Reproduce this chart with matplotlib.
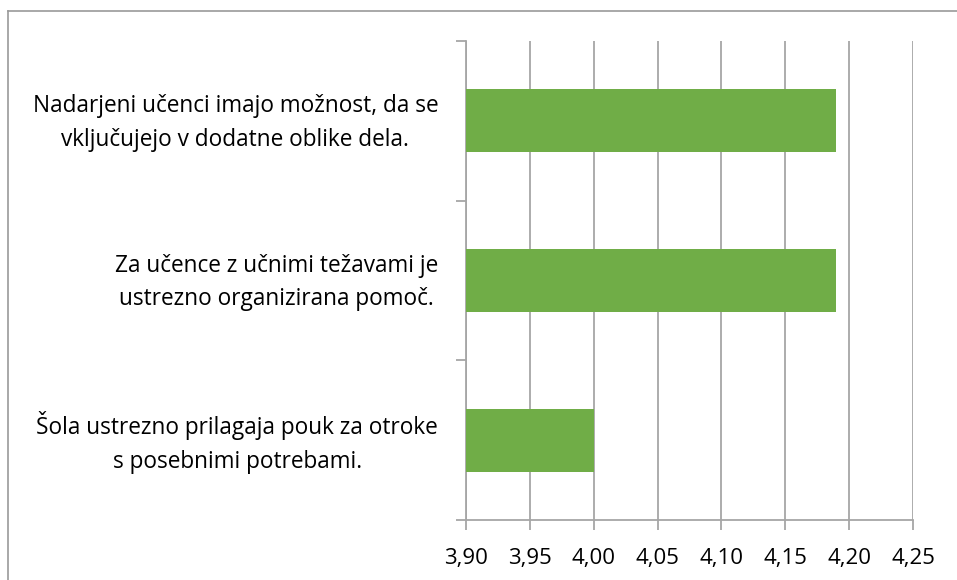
import matplotlib
matplotlib.use("Agg")
import matplotlib.pyplot as plt
import matplotlib.transforms as mtransforms
from matplotlib.lines import Line2D
import numpy as np

categories = [
    "Šola ustrezno prilagaja pouk za otroke\ns posebnimi potrebami.",
    "Za učence z učnimi težavami je\nustrezno organizirana pomoč.",
    "Nadarjeni učenci imajo možnost, da se\nvključujejo v dodatne oblike dela.",
]
values = [4.00, 4.19, 4.19]
xticks = [3.90, 3.95, 4.00, 4.05, 4.10, 4.15, 4.20, 4.25]
xticklabels = ["3,90", "3,95", "4,00", "4,05", "4,10", "4,15", "4,20", "4,25"]

plt.rcParams['font.family'] = ['Open Sans', 'DejaVu Sans']

W, H = 957, 580
fig = plt.figure(figsize=(W / 100, H / 100), dpi=100)
fig.patch.set_facecolor("white")

frame_c = "#9a9a9a"
fig.add_artist(Line2D([8 / W, 1.0], [1 - 11 / H, 1 - 11 / H], color=frame_c, lw=1.2, transform=fig.transFigure))
fig.add_artist(Line2D([8 / W, 8 / W], [0.0, 1 - 11 / H], color=frame_c, lw=1.2, transform=fig.transFigure))

ax = fig.add_axes([466 / W, (H - 520) / H, (913 - 466) / W, (520 - 41) / H])
y = np.arange(len(categories))
ax.barh(y, [v - 3.90 for v in values], left=3.90, height=0.395, color="#70AD47", zorder=3)
ax.set_xlim(3.90, 4.25)
ax.set_ylim(-0.5, len(categories) - 0.5)

grid_c = "#a6a6a6"
ax.set_xticks(xticks)
ax.set_xticklabels(xticklabels, fontsize=16)
ax.xaxis.grid(True, color=grid_c, lw=1.3, zorder=0)
ax.tick_params(axis="x", direction="out", length=7, width=1.3, color=grid_c, pad=13)

ax.set_yticks(y)
ax.set_yticklabels(categories, fontsize=16.3, multialignment="center", linespacing=1.55)
ax.tick_params(axis="y", which="major", length=0, pad=20)
ax.set_yticks(np.arange(-0.5, len(categories)), minor=True)
ax.tick_params(axis="y", which="minor", direction="out", length=7, width=1.3, color=grid_c)

offset = mtransforms.ScaledTranslation(0, 6 / 100, fig.dpi_scale_trans)
for lab in ax.get_yticklabels():
    lab.set_transform(lab.get_transform() + offset)

for s in ["top", "right"]:
    ax.spines[s].set_visible(False)
for s in ["left", "bottom"]:
    ax.spines[s].set_color(grid_c)
    ax.spines[s].set_linewidth(1.3)

fig.savefig("out.png", dpi=100)
